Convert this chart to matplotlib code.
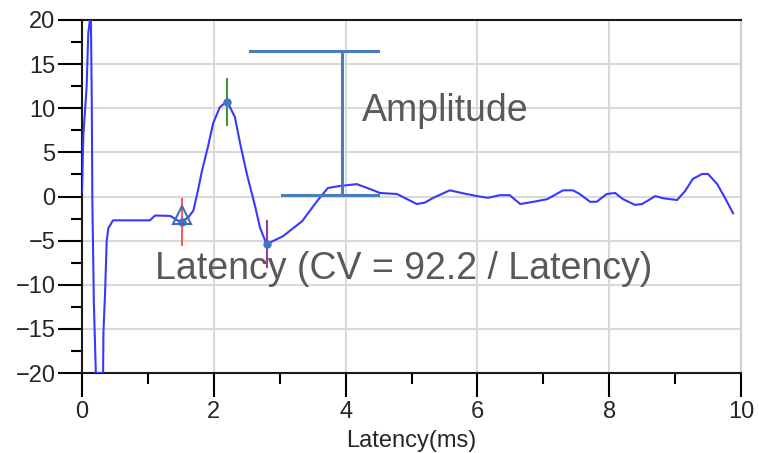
"""
Nerve conduction trace - latency / amplitude
"""

import matplotlib.pyplot as plt
from matplotlib.ticker import MultipleLocator

plt.rcParams['font.family'] = ['Liberation Sans', 'DejaVu Sans']

# trace (ms, uV)
latency = [0.0, 0.02, 0.07, 0.095, 0.12, 0.135, 0.148, 0.157, 0.18, 0.21,
           0.32, 0.325, 0.35, 0.375, 0.40, 0.47, 1.03, 1.11, 1.34, 1.49,
           1.61, 1.69, 1.76, 1.82, 1.91, 1.99, 2.09, 2.2, 2.32, 2.40, 2.5,
           2.63, 2.70, 2.8, 3.05, 3.34, 3.57, 3.73, 3.92, 4.17, 4.37, 4.52,
           4.78, 5.08, 5.2, 5.33, 5.58, 5.76, 5.99, 6.16, 6.34, 6.49, 6.65,
           6.85, 7.06, 7.3, 7.45, 7.55, 7.71, 7.81, 7.96, 8.09, 8.21, 8.39,
           8.5, 8.7, 8.82, 9.03, 9.15, 9.27, 9.41, 9.5, 9.64, 9.76, 9.88]
amplitude = [0.5, 6.9, 12.4, 18.5, 20.0, 20.0, 11.2, -0.5, -12.1, -20.0,
             -20.0, -15.5, -10.9, -5.0, -3.6, -2.7, -2.7, -2.15, -2.2, -2.9,
             -2.4, -1.6, 0.7, 2.9, 5.6, 8.3, 10.1, 10.8, 9.0, 6.0, 2.6,
             -1.2, -3.5, -5.4, -4.5, -2.8, -0.5, 0.96, 1.2, 1.4, 0.85, 0.4,
             0.28, -0.85, -0.7, -0.15, 0.7, 0.4, 0.05, -0.15, 0.15, 0.15, -0.85,
             -0.6, -0.3, 0.7, 0.7, 0.3, -0.6, -0.6, 0.28, 0.4, -0.3, -0.95,
             -0.85, 0.05, -0.2, -0.4, 0.6, 2.0, 2.55, 2.55, 1.4, -0.2, -1.9]

# picked points: onset, peak, trough
peak_x = [1.52, 2.2, 2.8]
peak_y = [-2.9, 10.7, -5.4]
peak_colors = ['#ff5a5a', '#3a9a3a', '#9a3a9a']

x_ticks = [0, 2, 4, 6, 8, 10]
y_ticks = [-20, -15, -10, -5, 0, 5, 10, 15, 20]

fig = plt.figure(figsize=(7.59, 4.53), dpi=100)
ax = fig.add_axes([82 / 759, 1 - 373 / 453, (741 - 82) / 759, (373 - 20) / 453])

ax.plot(latency, amplitude, color='#3838ff', lw=1.5, zorder=3)

# cursors on the picked points
for px, py, c in zip(peak_x, peak_y, peak_colors):
    ax.vlines(px, py - 2.7, py + 2.7, color=c, lw=1.5, zorder=4)
ax.plot(peak_x, peak_y, 'o', color='#4472c4', ms=5, zorder=5)
ax.plot(peak_x[0], peak_y[0] + 0.8, '^', mfc='none', mec='#3d6fb0',
        ms=13, mew=1.5, zorder=5)

# amplitude bracket
br = '#4a7ebb'
ax.plot([2.55, 4.49], [16.5, 16.5], color=br, lw=2.2, zorder=6)
ax.plot([3.95, 3.95], [16.5, 0.17], color=br, lw=2.2, zorder=6)
ax.plot([3.03, 4.49], [0.17, 0.17], color=br, lw=2.2, zorder=6)

ax.text(4.25, 8.55, 'Amplitude', fontsize=27, color='#595959',
        va='baseline', ha='left', zorder=7)
ax.text(1.11, -9.34, 'Latency (CV = 92.2 / Latency)', fontsize=27,
        color='#595959', va='baseline', ha='left', zorder=2)

ax.set_xlim(0, 10)
ax.set_ylim(-20, 20)
ax.set_xticks(x_ticks)
ax.set_yticks(y_ticks)
ax.xaxis.set_minor_locator(MultipleLocator(1))
ax.yaxis.set_minor_locator(MultipleLocator(2.5))
ax.tick_params(which='major', direction='out', length=17, width=1.5,
               labelsize=17, labelcolor='#262626', pad=2)
ax.tick_params(axis='x', which='major', pad=3)
ax.tick_params(which='minor', direction='out', length=8, width=1.5)
ax.set_xlabel('Latency(ms)', fontsize=17, color='#262626', labelpad=5)

ax.grid(True, which='major', color='#d9d9d9', lw=1.5)
ax.set_axisbelow(True)
for s in ['left', 'bottom', 'top']:
    ax.spines[s].set_linewidth(1.5)
    ax.spines[s].set_color('#1a1a1a')
ax.spines['right'].set_color('#d0d0d0')
ax.spines['right'].set_linewidth(1.5)

fig.savefig('out.png', dpi=100)
